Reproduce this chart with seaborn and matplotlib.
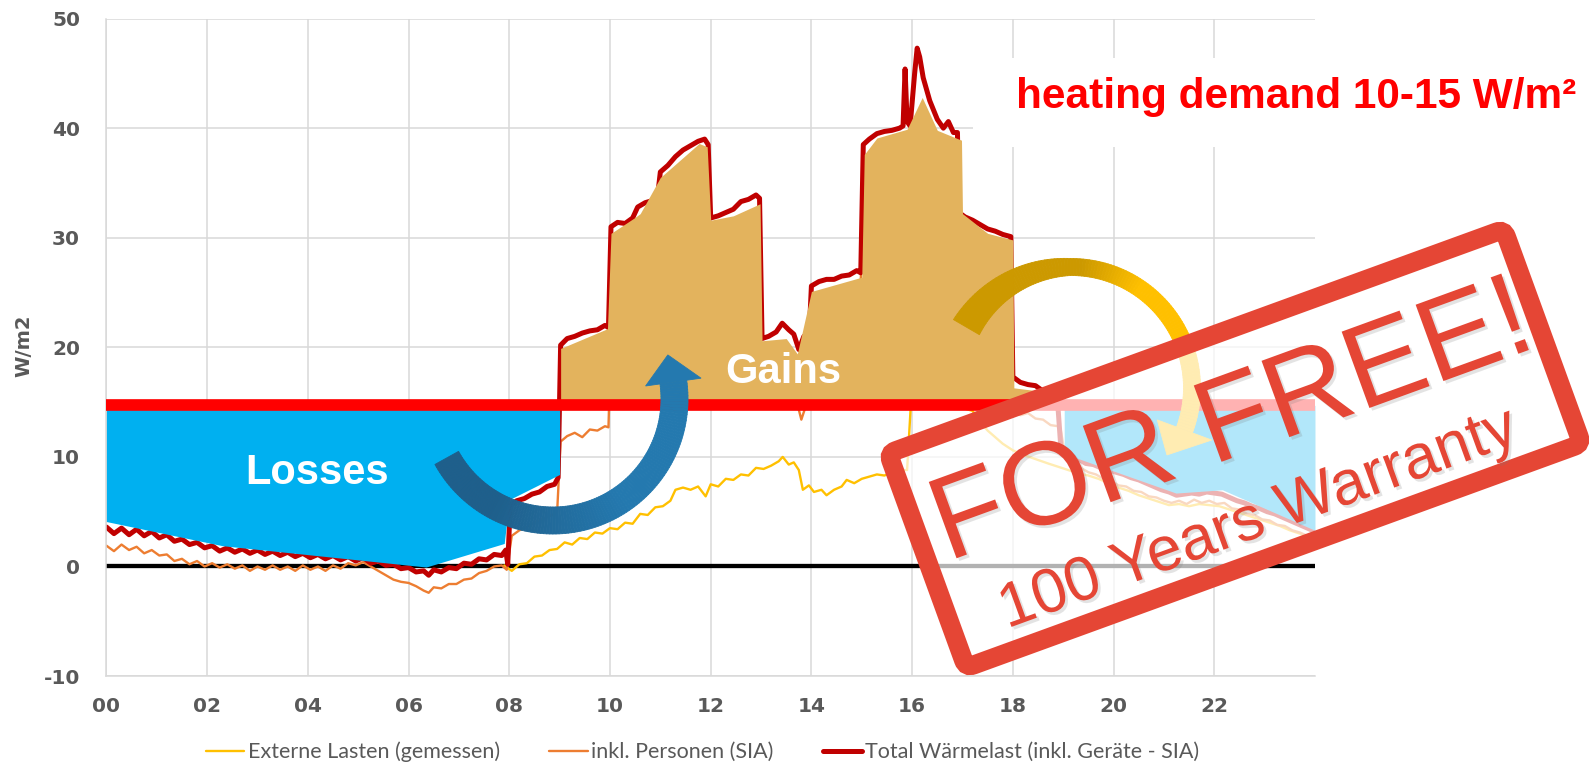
import numpy as np
import matplotlib
matplotlib.use("Agg")
import matplotlib.pyplot as plt
import matplotlib.patheffects as pe
from matplotlib.patches import Polygon, FancyBboxPatch, Rectangle
from matplotlib.collections import PolyCollection
from matplotlib.transforms import Affine2D
from matplotlib.colors import to_rgb
import seaborn as sns

# ---- values (hour of day, W/m2) ----
hour_ticks = [0, 2, 4, 6, 8, 10, 12, 14, 16, 18, 20, 22]
hour_labels = ["00", "02", "04", "06", "08", "10", "12", "14", "16", "18", "20", "22"]
load_ticks = [-10, 0, 10, 20, 30, 40, 50]

ext_hours = [7.90, 8.05, 8.20, 8.35, 8.50, 8.65, 8.80, 8.95, 9.10, 9.25, 9.40, 9.55, 9.70, 9.85,
             10.00, 10.15, 10.30, 10.45, 10.60, 10.75, 10.90, 11.05, 11.20, 11.30, 11.45, 11.60,
             11.75, 11.90, 12.00, 12.15, 12.30, 12.45, 12.60, 12.75, 12.90, 13.05, 13.20, 13.35,
             13.43, 13.55, 13.65, 13.75, 13.83, 13.95, 14.05, 14.20, 14.30, 14.45, 14.60, 14.70,
             14.85, 15.00, 15.15, 15.30, 15.45, 15.60, 15.75, 15.90, 15.97, 16.20, 16.50, 16.80,
             17.05, 17.20, 17.35, 17.50, 17.65, 17.80, 18.00, 18.20, 18.45, 18.70, 18.90, 19.10,
             19.30, 19.50, 19.70, 19.90, 20.10, 20.30, 20.50, 20.70, 20.90, 21.10, 21.30, 21.50,
             21.70, 21.90, 22.10, 22.30, 22.50, 22.70, 22.90, 23.10, 23.30, 23.50, 23.70, 23.90, 24.00]
ext_load = [0.1, -0.4, 0.2, 0.3, 0.9, 1.0, 1.5, 1.6, 2.2, 2.0, 2.6, 2.5, 3.1, 3.0,
            3.5, 3.4, 4.0, 3.9, 4.8, 4.7, 5.4, 5.5, 6.0, 7.0, 7.2, 7.0,
            7.3, 6.4, 7.5, 7.3, 8.0, 7.9, 8.4, 8.3, 9.0, 8.9, 9.2, 9.6,
            10.0, 9.3, 9.5, 8.8, 7.0, 7.4, 6.8, 7.0, 6.5, 7.0, 7.3, 7.9,
            7.6, 8.0, 8.2, 8.4, 8.3, 8.6, 8.8, 8.8, 14.4, 14.6, 14.4, 14.5,
            14.4, 14.2, 13.2, 12.4, 11.8, 11.2, 10.6, 10.2, 9.8, 9.4, 9.1, 8.8,
            8.5, 8.3, 8.0, 7.6, 7.2, 6.9, 6.5, 6.2, 5.9, 5.6, 5.7, 5.5,
            5.7, 5.6, 5.5, 5.2, 4.9, 4.6, 4.3, 4.0, 3.7, 3.3, 3.0, 2.6, 2.5]

pers_hours = [0.00, 0.15, 0.30, 0.45, 0.60, 0.75, 0.90, 1.05, 1.20, 1.35, 1.50, 1.65, 1.80, 1.95,
              2.10, 2.25, 2.40, 2.55, 2.70, 2.85, 3.00, 3.15, 3.30, 3.45, 3.60, 3.75, 3.90, 4.05,
              4.20, 4.35, 4.50, 4.65, 4.80, 4.95, 5.10, 5.25, 5.40, 5.55, 5.70, 5.85, 6.00, 6.15,
              6.30, 6.40, 6.50, 6.65, 6.80, 6.95, 7.10, 7.25, 7.40, 7.55, 7.70, 7.85, 7.95, 8.05,
              8.20, 8.35, 8.50, 8.65, 8.80, 8.95, 9.02, 9.15, 9.30, 9.45, 9.60, 9.75, 9.90, 9.97,
              10.02, 10.50, 10.95, 11.00, 11.50, 11.95, 12.00, 12.95, 13.00, 13.40, 13.70, 13.80,
              13.90, 13.98, 14.00, 14.95, 15.00, 15.80, 16.10, 16.50, 16.90, 16.93, 17.95, 18.00,
              18.15, 18.30, 18.45, 18.60, 18.75, 18.90, 18.95, 19.05, 19.20, 19.35, 19.50, 19.65,
              19.80, 19.95, 20.10, 20.25, 20.40, 20.55, 20.70, 20.85, 21.00, 21.15, 21.30, 21.45,
              21.60, 21.75, 21.90, 22.05, 22.20, 22.35, 22.50, 22.65, 22.80, 22.95, 23.10, 23.25,
              23.40, 23.55, 23.70, 23.85, 24.00]
pers_load = [1.9, 1.4, 2.0, 1.5, 1.8, 1.2, 1.5, 1.0, 1.1, 0.5, 0.7, 0.2, 0.5, 0.0,
             0.3, -0.1, 0.2, -0.2, 0.1, -0.4, 0.0, -0.3, 0.1, -0.3, 0.0, -0.4, 0.1, -0.3,
             0.0, -0.4, 0.1, -0.2, 0.3, 0.1, 0.4, 0.0, -0.4, -0.8, -1.2, -1.4, -1.5, -1.8,
             -2.2, -2.4, -1.9, -2.0, -1.6, -1.6, -1.2, -1.1, -0.6, -0.4, 0.0, 0.1, -0.3, 2.8,
             3.3, 3.6, 4.0, 4.3, 4.6, 4.9, 11.4, 11.9, 12.2, 11.8, 12.5, 12.4, 12.8, 12.7,
             21.0, 22.5, 24.0, 27.0, 29.0, 30.5, 23.5, 25.5, 15.4, 15.8, 15.2, 13.4,
             14.8, 15.2, 19.0, 20.0, 30.0, 31.0, 35.0, 32.0, 31.0, 23.5, 22.0, 14.2,
             13.8, 14.0, 13.5, 13.4, 12.9, 12.8, 12.5, 9.8, 9.4, 9.0, 8.6, 8.4,
             8.0, 7.8, 7.4, 7.3, 6.9, 6.8, 6.4, 6.3, 6.0, 5.8, 6.0, 5.7,
             6.1, 5.8, 6.0, 5.7, 5.8, 5.3, 5.2, 4.8, 4.7, 4.3, 4.2, 3.8,
             3.7, 3.3, 3.1, 2.8, 2.6]

total_hours = [0.00, 0.15, 0.30, 0.45, 0.60, 0.75, 0.90, 1.05, 1.20, 1.35, 1.50, 1.65, 1.80, 1.95,
               2.10, 2.25, 2.40, 2.55, 2.70, 2.85, 3.00, 3.15, 3.30, 3.45, 3.60, 3.75, 3.90, 4.05,
               4.20, 4.35, 4.50, 4.65, 4.80, 4.95, 5.10, 5.25, 5.40, 5.55, 5.70, 5.85, 6.00, 6.15,
               6.30, 6.40, 6.50, 6.65, 6.80, 6.95, 7.10, 7.25, 7.40, 7.55, 7.70, 7.85, 7.93, 7.97,
               8.02, 8.15, 8.30, 8.45, 8.60, 8.75, 8.90, 8.97, 9.02, 9.15, 9.30, 9.45, 9.60, 9.75,
               9.90, 9.97, 10.02, 10.15, 10.30, 10.45, 10.55, 10.70, 10.85, 10.95, 11.00, 11.15,
               11.30, 11.45, 11.60, 11.75, 11.88, 11.95, 12.00, 12.15, 12.30, 12.45, 12.60, 12.75,
               12.90, 12.97, 13.02, 13.15, 13.30, 13.42, 13.55, 13.65, 13.75, 13.85, 13.95, 14.00,
               14.15, 14.30, 14.45, 14.60, 14.75, 14.90, 14.98, 15.03, 15.15, 15.30, 15.45, 15.60,
               15.75, 15.82, 15.86, 15.90, 15.96, 16.05, 16.10, 16.15, 16.22, 16.35, 16.50, 16.62,
               16.72, 16.82, 16.90, 16.93, 17.05, 17.20, 17.35, 17.50, 17.65, 17.80, 17.96, 18.00,
               18.15, 18.30, 18.45, 18.60, 18.75, 18.90, 18.96, 19.15, 19.30, 19.45, 19.60, 19.75,
               19.90, 20.05, 20.20, 20.35, 20.50, 20.65, 20.80, 20.95, 21.10, 21.25, 21.40, 21.55,
               21.70, 21.85, 22.00, 22.15, 22.30, 22.45, 22.60, 22.75, 22.90, 23.05, 23.20, 23.35,
               23.50, 23.65, 23.80, 24.00]
total_load = [3.6, 3.0, 3.5, 2.9, 3.4, 2.8, 3.2, 2.6, 2.9, 2.3, 2.5, 2.0, 2.2, 1.7,
              1.9, 1.4, 1.7, 1.3, 1.6, 1.2, 1.5, 1.1, 1.4, 1.0, 1.3, 0.9, 1.2, 0.8,
              1.1, 0.7, 1.0, 0.6, 0.9, 0.5, 0.8, 0.3, 0.5, 0.1, 0.2, -0.2, -0.1, -0.5,
              -0.4, -0.8, -0.3, -0.5, -0.1, -0.2, 0.3, 0.2, 0.7, 0.6, 1.1, 1.0, 1.5, 0.2,
              5.6, 6.0, 6.2, 6.6, 6.8, 7.3, 7.5, 8.1, 20.2, 20.8, 21.0, 21.3, 21.5, 21.6,
              22.0, 21.8, 31.0, 31.4, 31.3, 31.8, 32.8, 33.2, 33.4, 34.0, 36.0, 36.6,
              37.4, 38.0, 38.4, 38.8, 39.0, 38.5, 31.8, 32.0, 32.3, 32.6, 33.3, 33.5,
              33.9, 33.6, 20.8, 21.0, 21.4, 22.2, 21.6, 21.2, 19.8, 21.0, 20.6, 25.6,
              26.0, 26.2, 26.2, 26.5, 26.6, 27.0, 26.8, 38.5, 39.0, 39.5, 39.7, 39.8,
              40.0, 40.2, 45.4, 40.6, 40.2, 45.0, 47.3, 46.5, 44.6, 42.5, 40.8, 40.0,
              40.6, 39.6, 39.6, 32.3, 31.9, 31.6, 31.2, 30.8, 30.6, 30.3, 30.1, 17.3,
              16.8, 16.6, 16.5, 16.0, 15.3, 14.3, 10.4, 10.0, 9.8, 9.4, 9.3, 9.0,
              8.8, 8.6, 8.4, 8.1, 7.9, 7.6, 7.3, 7.0, 6.8, 6.5, 6.6, 6.7,
              6.6, 6.8, 6.7, 6.6, 6.3, 6.0, 5.8, 5.5, 5.3, 5.0, 4.8, 4.5,
              4.2, 3.9, 3.6, 3.2]

# hand-drawn areas of the slide
loss_hours = [0.0, 2.3, 6.35, 7.9, 8.0, 9.0]
loss_low = [4.1, 1.9, -0.05, 2.1, 6.1, 8.4]
loss_eve_hours = [19.02, 21.24, 22.16, 24.0]
loss_eve_low = [10.3, 6.7, 7.0, 3.3]
gain_hours = [9.02, 9.95, 10.02, 10.48, 10.6, 11.0, 11.77, 11.93, 12.0, 12.45, 12.98, 13.02, 13.5,
              13.72, 14.0, 15.0, 15.05, 15.3, 15.9, 16.2, 16.5, 16.98, 17.0, 17.5, 18.0, 18.02, 18.55]
gain_top = [19.9, 21.7, 30.4, 31.8, 32.2, 35.5, 38.6, 38.3, 31.6, 32.0, 33.1, 20.6, 20.8,
            19.4, 25.1, 26.4, 37.6, 39.1, 39.9, 42.8, 39.8, 38.9, 32.2, 30.4, 29.8, 16.3, 16.0]
heat_level = 14.7

series_names = ["Externe Lasten (gemessen)", "inkl. Personen (SIA)",
                "Total Wärmelast (inkl. Geräte - SIA)"]

grey = "#595959"
stamp_red = "#E54635"

sns.set_style("white")
plt.rcParams["font.family"] = ["DejaVu Sans"]

W, H = 1589, 764
fig = plt.figure(figsize=(W / 100, H / 100), dpi=100)
ax = fig.add_axes([0.06696, 0.1151, 0.7606, 0.8606])

sns.lineplot(x=ext_hours, y=ext_load, ax=ax, color="#FFC000", lw=1.7,
             estimator=None, label=series_names[0], zorder=2)
sns.lineplot(x=pers_hours, y=pers_load, ax=ax, color="#ED7D31", lw=1.7,
             estimator=None, label=series_names[1], zorder=2.1)
sns.lineplot(x=total_hours, y=total_load, ax=ax, color="#C00000", lw=3.6,
             estimator=None, label=series_names[2], zorder=2.2)

ax.fill_between(loss_hours, loss_low, heat_level, color="#00B0F0", lw=0, zorder=3)
ax.fill_between(loss_eve_hours, loss_eve_low, heat_level, color="#00B0F0", lw=0, zorder=3)
ax.fill_between(gain_hours, heat_level, gain_top, color="#E3B35D", lw=0, zorder=3)
ax.axhline(heat_level, color="#FF0000", lw=8.4, zorder=4)
ax.axhline(0, color="black", lw=3.1, zorder=1.5)

ax.text(4.19, 7.53, "Losses", color="white", fontsize=30, fontweight="bold",
        family="Liberation Sans", ha="center", va="baseline", zorder=5)
ax.text(13.45, 16.74, "Gains", color="white", fontsize=30, fontweight="bold",
        family="Liberation Sans", ha="center", va="baseline", zorder=5)

ax.set_xlim(0, 24)
ax.set_ylim(-10, 50)
ax.set_xticks(hour_ticks, hour_labels)
ax.set_yticks(load_ticks, [str(v) for v in load_ticks])
ax.tick_params(axis="both", length=0, labelsize=14.5, labelcolor=grey)
ax.tick_params(axis="x", pad=15)
ax.tick_params(axis="y", pad=19)
for lbl in ax.get_xticklabels() + ax.get_yticklabels():
    lbl.set_fontweight("bold")
ax.set_xlabel("")
ax.set_ylabel("")
ax.grid(True, color="#D9D9D9", lw=1.1)
ax.set_axisbelow(True)
for side in ["top", "right"]:
    ax.spines[side].set_visible(False)
for side in ["left", "bottom"]:
    ax.spines[side].set_color("#D9D9D9")
    ax.spines[side].set_linewidth(1.1)

fig.text(24 / W, 0.548, "W/m2", rotation=90, ha="center", va="center",
         fontsize=14, fontweight="bold", color=grey)

handles, labels = ax.get_legend_handles_labels()
ax.get_legend().remove()
fig.legend(handles, labels, loc="center", bbox_to_anchor=(0.442, 0.0157), ncol=3,
           frameon=False, prop={"family": "Lato", "size": 15.5}, labelcolor=grey,
           handlelength=1.8, handletextpad=0.15, columnspacing=2.3)

# heading with its white backing box
fig.add_artist(Rectangle((973 / W, 1 - 147 / H), 1 - 973 / W, 89 / H,
                         transform=fig.transFigure, facecolor="white",
                         edgecolor="none", zorder=2))
fig.text(1016 / W, 1 - 108 / H, "heating demand 10-15 W/m²", color="#FF0000",
         fontsize=30.5, fontweight="bold", family="Liberation Sans",
         ha="left", va="baseline", zorder=3)


def px(cx, cy, t, r):
    # canvas pixel (y down) around a centre -> inches for dpi_scale_trans
    return ((cx + r * np.cos(t)) / 100, (H - (cy - r * np.sin(t))) / 100)


def curved_arrow(cx, cy, r, t0, t1, t_tip, r_tip, widths, head_w, c0, c1, blend):
    s = np.linspace(0, 1, 121)
    th = np.radians(t0 + (t1 - t0) * s)
    w = np.interp(s, widths[0], widths[1])
    f = np.clip((s - blend[0]) / (blend[1] - blend[0]), 0, 1)
    a, b = np.array(to_rgb(c0)), np.array(to_rgb(c1))
    quads, cols = [], []
    for i in range(len(s) - 1):
        quads.append([px(cx, cy, th[i], r + w[i] / 2), px(cx, cy, th[i + 1], r + w[i + 1] / 2),
                      px(cx, cy, th[i + 1], r - w[i + 1] / 2), px(cx, cy, th[i], r - w[i] / 2)])
        cols.append(tuple((1 - f[i]) * a + f[i] * b))
    fig.add_artist(PolyCollection(quads, facecolors=cols, edgecolors=cols, linewidths=0.6,
                                  transform=fig.dpi_scale_trans, zorder=5))
    head = [px(cx, cy, th[-1], r + head_w / 2), px(cx, cy, np.radians(t_tip), r_tip),
            px(cx, cy, th[-1], r - head_w / 2)]
    fig.add_artist(Polygon(head, closed=True, facecolor=c1, edgecolor=c1, lw=0.6,
                           transform=fig.dpi_scale_trans, zorder=5))


curved_arrow(553, 399, 121.5, 209, 368, 381, 123, ([0, 1], [27, 27]), 56,
             "#1F5F8B", "#2479AF", (0.2, 0.6))
curved_arrow(1071, 388, 121, 149.8, -20.3, -34.9, 117, ([0, 0.35, 1], [30, 17, 17]), 58,
             "#CC9900", "#FFC000", (0.38, 0.55))

# stamp
stamp_tr = Affine2D().rotate_deg(20).translate(12.35, (H - 448.5) / 100) + fig.dpi_scale_trans
fig.add_artist(FancyBboxPatch((-3.275, -1.14), 6.55, 2.28,
                              boxstyle="round,pad=0,rounding_size=0.08",
                              transform=stamp_tr, facecolor=(1, 1, 1, 0.7),
                              edgecolor=stamp_red, lw=13.7, zorder=7))
shadow = [pe.withSimplePatchShadow(offset=(2, -2), shadow_rgbFace="#777777", alpha=0.2)]
fig.text(1243 / W, 1 - 454 / H, "FOR FREE!", rotation=20, rotation_mode="anchor",
         ha="center", va="baseline", fontsize=85, color=stamp_red,
         family="Liberation Sans", zorder=8, path_effects=shadow)
fig.text(1264 / W, 1 - 535 / H, "100 Years Warranty", rotation=20, rotation_mode="anchor",
         ha="center", va="baseline", fontsize=45, color=stamp_red,
         family="Liberation Sans", zorder=8, path_effects=shadow)

fig.savefig("out.png", dpi=100, facecolor="white")
